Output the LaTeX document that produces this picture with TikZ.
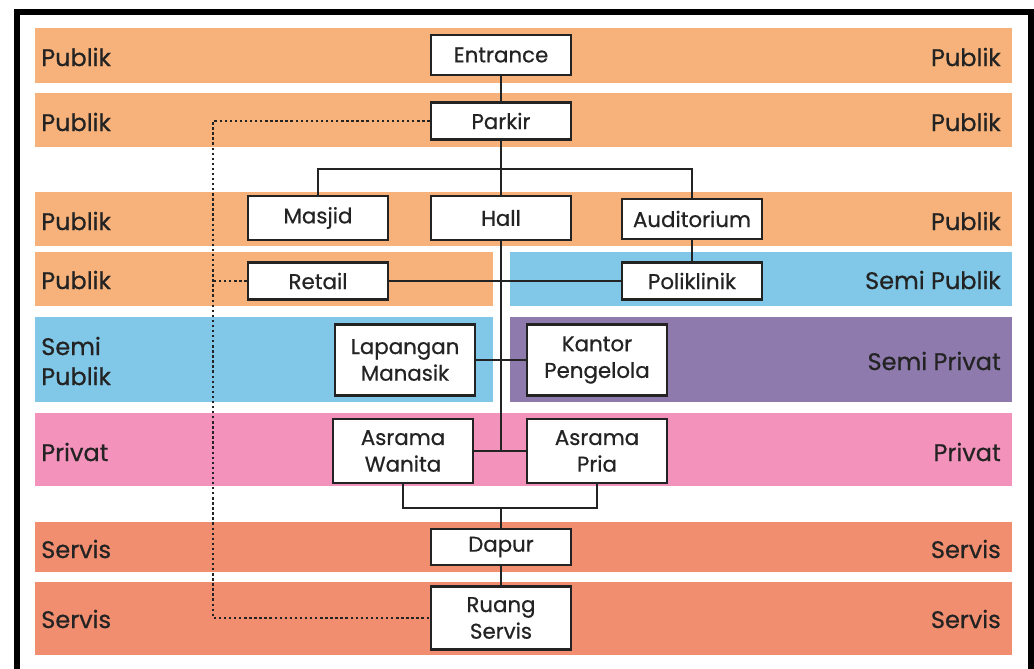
\documentclass[tikz,border=0pt]{standalone}
\usepackage{fontspec}
\setmainfont{Poppins}[FakeBold=0.6]
\definecolor{publik}{RGB}{246,178,122}
\definecolor{semipublik}{RGB}{128,199,232}
\definecolor{semiprivat}{RGB}{142,122,172}
\definecolor{privat}{RGB}{243,146,186}
\definecolor{servis}{RGB}{241,142,112}
\definecolor{ink}{RGB}{35,35,35}
\begin{document}
\begin{tikzpicture}[
        x=0.75pt, y=-0.75pt,
        zonelabel/.style={text=ink, font=\fontsize{18}{22.5}\selectfont, align=left, inner sep=0pt},
        room/.style={draw=ink, fill=white, line width=2pt, minimum width=105pt, text=ink,
                     align=center, inner sep=1pt, font=\fontsize{16}{20}\selectfont},
        link/.style={draw=ink, line width=1.8pt},
        dots/.style={draw=ink, line width=1.8pt, dotted}
    ]
    \useasboundingbox (0,0) rectangle (1034,668);
    \clip (0,0) rectangle (1034,668);

    % zones
    \fill[publik] (35,28) rectangle (1012,83);
    \fill[publik] (35,93) rectangle (1012,147);
    \fill[publik] (35,192) rectangle (1012,246);
    \fill[publik] (35,252) rectangle (493,306);
    \fill[semipublik] (510,252) rectangle (1012,306);
    \fill[semipublik] (35,317) rectangle (493,402);
    \fill[semiprivat] (510,317) rectangle (1012,402);
    \fill[privat] (35,413) rectangle (1012,486);
    \fill[servis] (35,522) rectangle (1012,572);
    \fill[servis] (35,582) rectangle (1012,655);

    % zone names
    \foreach \y/\left/\right in {57/Publik/Publik, 122/Publik/Publik, 221/Publik/Publik,
                                  280/Publik/Semi Publik, 361/Semi\\Publik/Semi Privat,
                                  452/Privat/Privat, 549/Servis/Servis, 619/Servis/Servis} {
        \node[zonelabel, anchor=west] at (41,\y) {\left};
        \node[zonelabel, anchor=east] at (1001,\y) {\right};
    }

    % frame
    \draw[line width=4pt] (17,680) -- (17,12) -- (1031,12) -- (1031,680);

    % rooms
    \node[room, minimum height=30pt] (entrance) at (501,55) {Entrance};
    \node[room, minimum height=28pt] (parkir) at (501,121) {Parkir};
    \node[room, minimum height=33pt] (masjid) at (318,218) {Masjid};
    \node[room, minimum height=33pt] (hall) at (501,218) {Hall};
    \node[room, minimum height=30pt] (auditorium) at (692,219) {Auditorium};
    \node[room, minimum height=28pt] (retail) at (318,281) {Retail};
    \node[room, minimum height=28pt] (poliklinik) at (692,281) {Poliklinik};
    \node[room, minimum height=53pt] (lapangan) at (405,360) {Lapangan\\Manasik};
    \node[room, minimum height=53pt] (kantor) at (597,360) {Kantor\\Pengelola};
    \node[room, minimum height=48pt] (wanita) at (403,451) {Asrama\\Wanita};
    \node[room, minimum height=48pt] (pria) at (597,451) {Asrama\\Pria};
    \node[room, minimum height=27pt] (dapur) at (501,547) {Dapur};
    \node[room, minimum height=47pt] (ruang) at (501,618) {Ruang\\Servis};

    % links
    \coordinate (split) at (501,169);
    \coordinate (asrama) at (501,451);
    \coordinate (merge) at (501,508);
    \coordinate (dtop) at (213,121);
    \coordinate (dbot) at (213,618);

    \draw[link] (entrance) -- (parkir);
    \draw[link] (parkir) -- (hall);
    \draw[link] (masjid.north) |- (split) -| (auditorium.north);
    \draw[link] (auditorium) -- (poliklinik);
    \draw[link] (retail) -- (poliklinik);
    \draw[link] (hall.south) -- (asrama);
    \draw[link] (lapangan) -- (kantor);
    \draw[link] (wanita) -- (pria);
    \draw[link] (wanita.south) |- (merge) -| (pria.south);
    \draw[link] (merge) -- (dapur);
    \draw[link] (dapur) -- (ruang);

    \draw[dots] (parkir.west) -- (dtop) -- (dbot) -- (ruang.west);
    \draw[dots] (retail.west) -- (retail.west -| dtop);
\end{tikzpicture}
\end{document}
